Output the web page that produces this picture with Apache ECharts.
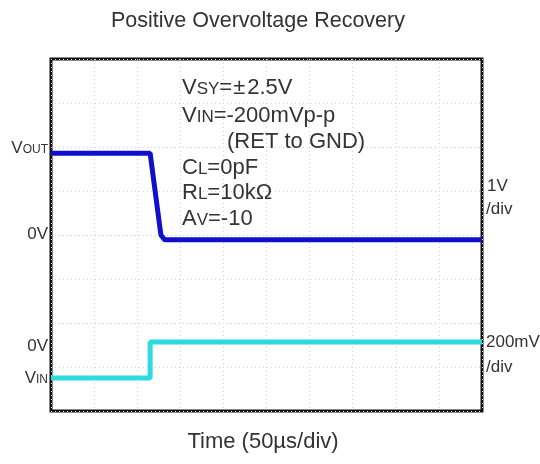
<!DOCTYPE html>
<html>
<head>
<meta charset="utf-8">
<script src="https://cdn.jsdelivr.net/npm/echarts@6/dist/echarts.min.js"></script>
<style>
  html, body { margin: 0; padding: 0; background: #fff; }
  #main { width: 540px; height: 464px; }
</style>
</head>
<body>
<div id="main"></div>
<script>
// time in µs (50µs/div), VOUT in V (1V/div), VIN in mV (200mV/div)
var timeVout = [0, 115, 127.5, 132, 500];
var vout = [1.86, 1.86, 0.0, -0.11, -0.11];
var timeVin = [0, 115, 115, 500];
var vin = [-164, -164, 0, 0];

var font = '"Liberation Sans", Arial, sans-serif';
var narrow = '"Liberation Sans Narrow", "Liberation Sans", Arial, sans-serif';
var txt = '#333';

function pairs(xs, ys) {
    return xs.map(function (x, i) { return [x, ys[i]]; });
}

var sub = {
    a: { fontSize: 22, fontFamily: font, color: txt, verticalAlign: 'bottom' },
    b: { fontSize: 17, fontFamily: font, color: txt, verticalAlign: 'bottom', padding: [0, 0, 1, 0] },
    pm: { fontSize: 22, fontFamily: font, color: txt, verticalAlign: 'bottom', padding: [0, 2, 0, 1] }
};
var subN = {
    a: { fontSize: 17, fontFamily: narrow, color: txt, verticalAlign: 'bottom' },
    b: { fontSize: 12, fontFamily: narrow, color: txt, verticalAlign: 'bottom', padding: [0, 0, 1, 0] }
};

function label(x, y, text, rich, align) {
    return {
        type: 'text', x: x, y: y, z: 10,
        style: {
            text: text, rich: rich, fill: txt,
            font: '16px ' + narrow,
            textAlign: align || 'left', textVerticalAlign: 'middle'
        }
    };
}

var mychart = echarts.init(document.getElementById('main'));
mychart.setOption({
    animation: false,
    title: {
        text: 'Positive Overvoltage Recovery',
        left: 106,
        top: 5,
        textStyle: { fontFamily: font, fontSize: 21.5, fontWeight: 'normal', color: txt }
    },
    grid: {
        left: 51, right: 58, top: 59, bottom: 53,
        show: true, borderColor: '#111', borderWidth: 3, backgroundColor: '#fff'
    },
    xAxis: {
        type: 'value', min: 0, max: 500, interval: 50,
        axisLine: { show: false }, axisTick: { show: false }, axisLabel: { show: false },
        splitLine: { show: true, lineStyle: { color: '#d4d4d4', type: [1, 3], width: 1 } }
    },
    yAxis: [{
        type: 'value', min: -4, max: 4, interval: 1,
        axisLine: { show: false }, axisTick: { show: false }, axisLabel: { show: false },
        splitLine: { show: true, lineStyle: { color: '#d4d4d4', type: [1, 3], width: 1 } }
    }, {
        type: 'value', min: -314, max: 1286,
        axisLine: { show: false }, axisTick: { show: false }, axisLabel: { show: false },
        splitLine: { show: false }
    }],
    series: [{
        name: 'VOUT', type: 'line', yAxisIndex: 0,
        data: pairs(timeVout, vout),
        symbol: 'none',
        lineStyle: { color: '#1010cc', width: 5 }
    }, {
        name: 'VIN', type: 'line', yAxisIndex: 1,
        data: pairs(timeVin, vin),
        symbol: 'none',
        lineStyle: { color: '#2cdbe0', width: 5 }
    }],
    graphic: [
        // left-side trace labels
        label(48, 148, '{a|V}{b|OUT}', subN, 'right'),
        label(48, 234, '{a|0V}', subN, 'right'),
        label(48, 346, '{a|0V}', subN, 'right'),
        label(48, 378, '{a|V}{b|IN}', subN, 'right'),
        // right-side scale labels
        label(487, 186, '{a|1V}', subN),
        label(486, 209, '{a|/div}', subN),
        label(486, 342, '{a|200mV}', subN),
        label(486, 367, '{a|/div}', subN),
        // conditions block
        label(182, 88, '{a|V}{b|SY}{a|=}{pm|±}{a|2.5V}', sub),
        label(182, 116, '{a|V}{b|IN}{a|=-200mVp-p}', sub),
        label(227, 142, '{a|(RET to GND)}', sub),
        label(182, 168, '{a|C}{b|L}{a|=0pF}', sub),
        label(182, 193, '{a|R}{b|L}{a|=10kΩ}', sub),
        label(182, 219, '{a|A}{b|V}{a|=-10}', sub),
        // x axis caption
        {
            type: 'text', x: 263, y: 442,
            style: {
                text: 'Time (50µs/div)', fill: txt,
                font: '22px ' + font,
                textAlign: 'center', textVerticalAlign: 'middle'
            }
        }
    ]
});
</script>
</body>
</html>
